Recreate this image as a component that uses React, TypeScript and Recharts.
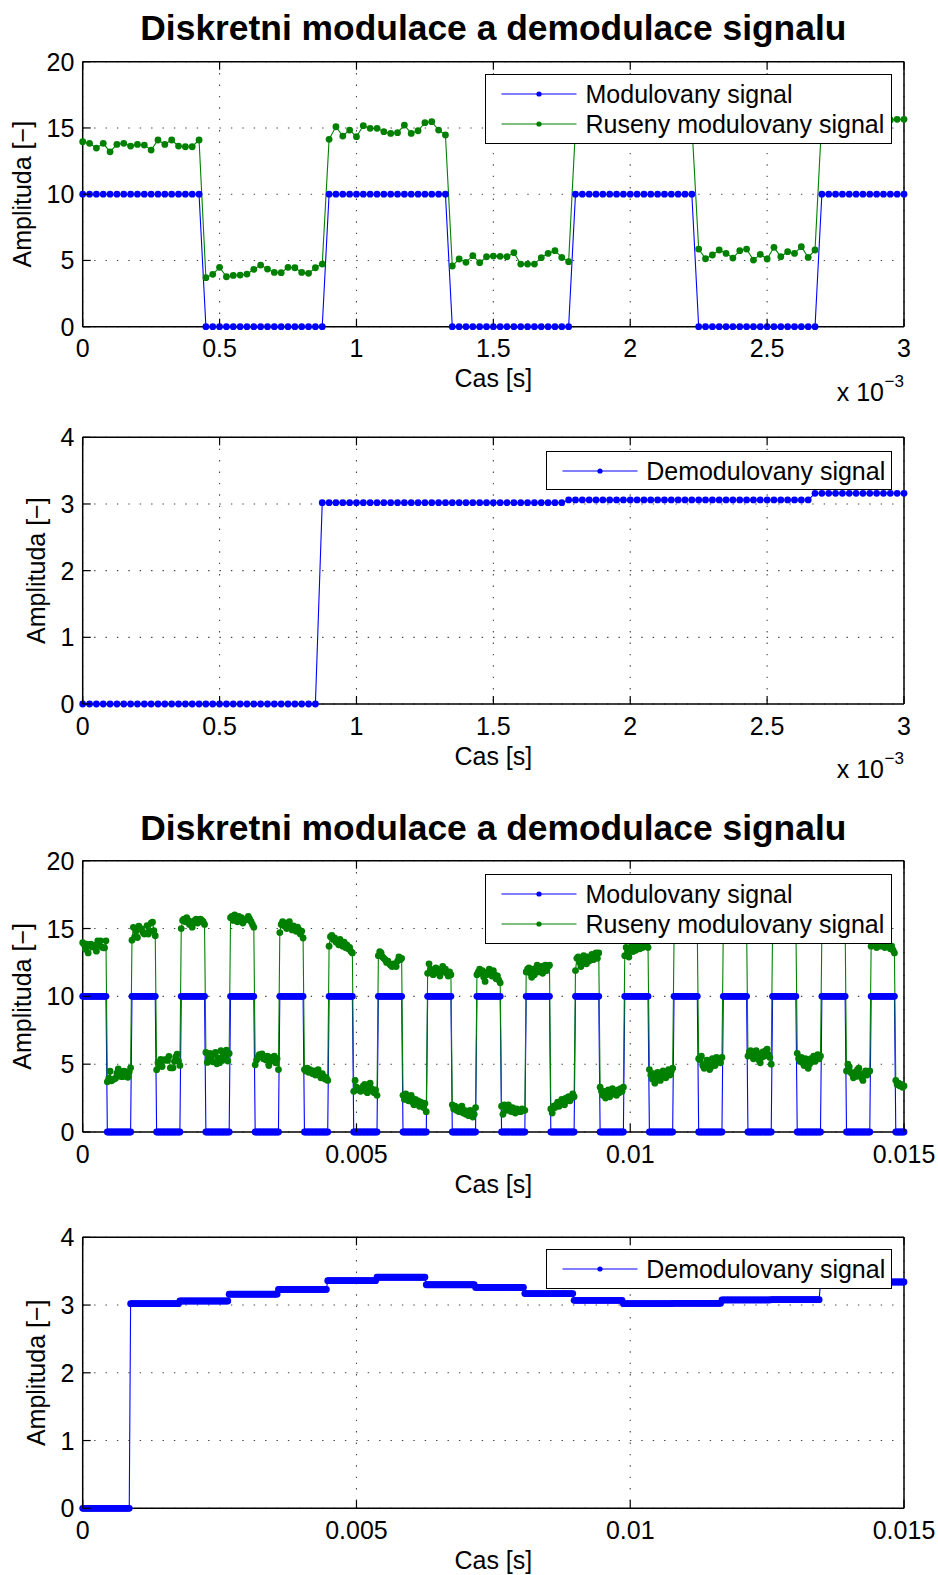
import React from 'react';
import { LineChart, Line, XAxis, YAxis, CartesianGrid, Legend } from 'recharts';

const FONT = '"Liberation Sans", Arial, Helvetica, sans-serif';
const BLUE = '#0000ff';
const GREEN = '#008000';

// 40 kHz sampling, one bit = 18 samples (0.45 ms)
const SAMPLE_US = 25;
const SAMPLES_PER_BIT = 18;

// modulated signal, one level per bit
const modLevels = [
  10, 0, 10, 0, 10, 0, 10, 0, 10, 0, 10, 0, 10, 0, 10, 0, 10,
  0, 10, 0, 10, 0, 10, 0, 10, 0, 10, 0, 10, 0, 10, 0, 10, 0,
];

// noisy modulated signal, samples grouped per bit
const noisyBits: number[][] = [
  [13.96, 13.84, 13.48, 13.84, 13.2, 13.76, 13.84, 13.63, 13.76, 13.71, 13.33, 14.09, 13.76, 14.09, 13.63, 13.58, 13.58, 14.09],
  [3.7, 3.95, 4.48, 3.77, 3.87, 3.9, 3.97, 4.33, 4.65, 4.35, 4.1, 4.08, 4.48, 4.45, 4.1, 4.03, 4.45, 4.73],
  [14.14, 15.09, 14.39, 14.84, 14.34, 15.17, 14.97, 14.97, 14.72, 14.59, 14.64, 15.22, 14.59, 14.79, 15.4, 15.47, 14.84, 14.47],
  [4.58, 5.11, 4.86, 5.36, 4.83, 5.28, 5.33, 5.31, 5.28, 5.58, 4.73, 4.73, 4.73, 5.21, 5.53, 5.74, 5.23, 4.91],
  [15.0, 15.6, 15.7, 15.5, 15.8, 15.6, 15.3, 15.5, 15.1, 15.4, 15.6, 15.7, 15.4, 15.5, 15.7, 15.6, 15.5, 15.3],
  [5.86, 5.13, 5.41, 5.79, 5.53, 5.18, 5.74, 5.86, 5.03, 5.46, 5.11, 5.99, 5.28, 5.66, 5.53, 6.04, 5.23, 5.79],
  [15.8, 15.9, 15.6, 16.0, 15.7, 15.5, 15.9, 15.6, 15.8, 15.4, 15.6, 15.65, 15.65, 15.9, 15.7, 15.5, 15.3, 15.1],
  [4.95, 5.3, 5.5, 5.7, 5.6, 5.75, 5.4, 5.55, 5.3, 5.6, 4.9, 5.2, 5.5, 5.35, 5.6, 5.1, 5.4, 4.6],
  [14.7, 15.3, 15.5, 15.2, 15.4, 15.0, 15.3, 15.5, 15.1, 14.9, 15.2, 15.0, 14.8, 15.1, 14.9, 14.6, 14.8, 14.3],
  [4.6, 4.5, 4.7, 4.4, 4.6, 4.5, 4.3, 4.5, 4.2, 4.4, 4.6, 4.2, 4.0, 4.3, 4.1, 3.9, 4.0, 3.8],
  [13.7, 14.4, 14.5, 14.2, 14.3, 14.0, 14.1, 13.8, 14.2, 13.9, 13.7, 14.0, 13.6, 13.8, 13.5, 13.6, 13.3, 13.2],
  [3.0, 3.8, 3.3, 3.1, 3.2, 3.0, 3.1, 3.4, 3.5, 3.0, 2.9, 3.4, 3.6, 3.2, 3.0, 2.9, 3.1, 2.7],
  [13.0, 13.3, 13.2, 12.9, 12.8, 12.7, 12.5, 12.6, 12.4, 12.3, 12.2, 12.4, 12.3, 12.2, 12.6, 12.9, 12.7, 12.8],
  [2.7, 2.4, 2.8, 2.6, 2.3, 2.5, 2.7, 2.2, 2.0, 2.4, 2.1, 2.3, 1.9, 2.2, 2.0, 1.8, 2.1, 1.5],
  [11.7, 12.4, 12.0, 11.8, 11.6, 11.7, 12.1, 12.0, 11.8, 11.5, 11.9, 12.2, 11.8, 12.0, 11.7, 11.5, 11.8, 11.6],
  [2.0, 1.7, 1.9, 1.6, 1.8, 1.5, 1.7, 1.9, 1.4, 1.6, 1.3, 1.5, 1.2, 1.6, 1.4, 1.1, 1.3, 1.8],
  [11.6, 11.8, 12.0, 11.7, 11.9, 11.4, 11.1, 11.6, 11.8, 12.0, 11.7, 11.5, 11.9, 11.6, 11.3, 11.5, 11.2, 11.0],
  [1.9, 1.3, 2.0, 1.8, 1.6, 2.0, 1.7, 1.5, 1.8, 1.6, 1.4, 1.7, 1.5, 1.6, 1.5, 1.7, 1.6, 1.6],
  [11.8, 12.0, 12.1, 11.7, 11.4, 12.0, 11.6, 11.9, 12.3, 11.8, 12.0, 12.2, 11.7, 12.1, 12.3, 11.9, 12.2, 12.3],
  [1.7, 1.4, 1.9, 1.8, 2.0, 2.2, 1.9, 2.1, 2.4, 2.2, 2.0, 2.5, 2.3, 2.6, 2.3, 2.5, 2.8, 2.6],
  [11.9, 12.8, 12.9, 12.5, 12.2, 12.6, 13.0, 12.7, 12.4, 12.9, 12.6, 12.8, 13.1, 12.7, 12.9, 13.2, 12.8, 13.2],
  [3.3, 3.0, 2.7, 3.0, 2.5, 2.8, 3.1, 2.6, 2.9, 3.2, 2.8, 3.0, 2.7, 3.1, 2.9, 3.2, 3.0, 3.3],
  [13.0, 13.6, 13.3, 12.9, 13.4, 13.7, 13.3, 13.6, 13.4, 13.7, 13.8, 13.5, 13.7, 13.6, 13.9, 13.7, 13.8, 13.6],
  [4.6, 4.2, 3.9, 4.3, 3.6, 4.0, 4.4, 4.1, 3.8, 4.2, 4.5, 4.3, 4.0, 4.4, 4.6, 4.2, 4.5, 4.7],
  [14.3, 14.6, 14.8, 14.5, 14.7, 14.9, 14.6, 14.8, 14.5, 14.7, 15.0, 14.8, 14.6, 14.9, 14.7, 14.8, 15.0, 14.7],
  [5.4, 5.3, 5.6, 4.9, 4.7, 5.0, 5.3, 5.0, 4.6, 4.8, 5.4, 5.0, 4.9, 5.5, 5.2, 5.3, 5.1, 5.5],
  [15.0, 15.2, 15.4, 15.1, 15.3, 15.5, 15.2, 15.4, 15.1, 15.3, 15.6, 15.4, 15.2, 15.5, 15.3, 15.4, 15.6, 15.3],
  [5.6, 5.9, 6.0, 5.6, 5.4, 5.7, 6.0, 5.8, 5.3, 5.1, 5.5, 5.9, 5.6, 6.0, 6.1, 5.7, 5.5, 5.0],
  [15.2, 15.5, 15.6, 15.3, 15.5, 15.7, 15.4, 15.6, 15.3, 15.5, 15.8, 15.6, 15.4, 15.7, 15.5, 15.6, 15.8, 15.5],
  [5.8, 5.4, 5.2, 5.5, 5.1, 4.9, 5.4, 5.2, 4.7, 5.0, 5.4, 5.3, 5.6, 5.2, 5.5, 5.7, 5.4, 5.6],
  [14.8, 15.1, 15.3, 15.0, 15.2, 15.4, 15.1, 15.3, 15.0, 15.2, 15.5, 15.3, 15.1, 15.4, 15.2, 15.3, 15.5, 15.2],
  [4.5, 5.0, 4.8, 4.4, 4.3, 4.0, 4.4, 4.1, 4.6, 4.7, 4.3, 4.0, 3.8, 4.3, 4.5, 4.2, 4.4, 4.5],
  [13.7, 14.0, 13.8, 13.9, 13.6, 13.8, 14.1, 13.7, 13.9, 13.8, 13.6, 14.0, 13.7, 13.8, 13.5, 13.7, 13.4, 13.2],
  [3.8, 3.5, 3.6, 3.4, 3.5, 3.3, 3.4],
];

// demodulated signal: [level, number of samples]
const demodRuns: [number, number][] = [
  [0, 35], [3.02, 36], [3.06, 36], [3.16, 36], [3.23, 36], [3.36, 36], [3.41, 36], [3.3, 36], [3.26, 36],
  [3.17, 36], [3.07, 36], [3.02, 36], [3.025, 36], [3.075, 36], [3.08, 36], [3.33, 36], [3.34, 26],
];

const xTicksShort = [0, 0.0005, 0.001, 0.0015, 0.002, 0.0025, 0.003];
const xLabelsShort = ['0', '0.5', '1', '1.5', '2', '2.5', '3'];
const xTicksLong = [0, 0.005, 0.01, 0.015];
const xLabelsLong = ['0', '0.005', '0.01', '0.015'];
const yTicksSignal = [0, 5, 10, 15, 20];
const yTicksDemod = [0, 1, 2, 3, 4];

const demodSamples = demodRuns.flatMap(([v, n]) => Array(n).fill(v));

const rows = noisyBits.flatMap((bit, k) =>
  bit.map((v, j) => {
    const i = k * SAMPLES_PER_BIT + j;
    return { t: (i * SAMPLE_US) / 1e6, mod: modLevels[k], noisy: v, demod: demodSamples[i] };
  })
);
const rowsShort = rows.filter((r) => r.t <= 0.003);

const PLOT_LEFT = 82.7;
const PLOT_RIGHT = 904;
const TICK_LEN = 8;
const FS = 25;
const DOT_R = 3.4;
// axis sizes (kept small, margins absorb the rest)
const Y_W = 60;
const X_H = 30;
const SIDE = 10;

type Series = { key: string; color: string; name: string };
type Box = { left: number; top: number; width: number; height: number };
type PanelCfg = {
  top: number;
  height: number;
  plotTop: number;
  plotBottom: number;
  data: any[];
  xMax: number;
  xTicks: number[];
  xLabels: string[];
  yMax: number;
  yTicks: number[];
  series: Series[];
  legend: Box;
};

function LegendBox({ items, box }: { items: Series[]; box: Box }) {
  return (
    <div
      style={{
        width: box.width,
        height: box.height,
        boxSizing: 'border-box',
        border: '1.4px solid #000',
        background: '#fff',
        position: 'relative',
        fontFamily: FONT,
        fontSize: FS,
        color: '#000',
      }}
    >
      {items.map((it, idx) => {
        const cy = 19 + idx * 30;
        return (
          <div key={it.key}>
            <svg width={100} height={30} style={{ position: 'absolute', left: 0, top: cy - 15 }}>
              <line x1={15.5} x2={90.5} y1={15} y2={15} stroke={it.color} strokeWidth={1.1} />
              <circle cx={53} cy={15} r={2.6} fill={it.color} />
            </svg>
            <div style={{ position: 'absolute', left: 99.5, top: cy - 15, lineHeight: '30px', whiteSpace: 'nowrap' }}>
              {it.name}
            </div>
          </div>
        );
      })}
    </div>
  );
}

const makeDot = (color: string) => (p: any) => {
  if (p.cx == null || p.cy == null) return <g key={p.index} />;
  return <circle key={p.index} cx={p.cx} cy={p.cy} r={DOT_R} fill={color} />;
};

function Panel({ cfg }: { cfg: PanelCfg }) {
  const plotBottomLocal = cfg.plotBottom - cfg.top;
  const plotTopLocal = cfg.plotTop - cfg.top;
  const axisStyle = { stroke: '#000', strokeWidth: 1.5 };

  const labelFor = (v: number) => {
    let best = 0;
    cfg.xTicks.forEach((t, i) => {
      if (Math.abs(t - v) < Math.abs(cfg.xTicks[best] - v)) best = i;
    });
    return cfg.xLabels[best];
  };

  const bottomTick = (p: any) => (
    <g>
      <line x1={p.x} x2={p.x} y1={plotBottomLocal} y2={plotBottomLocal - TICK_LEN} stroke="#000" strokeWidth={1.2} />
      <text x={p.x} y={plotBottomLocal + 30.5} textAnchor="middle" fontSize={FS} fontFamily={FONT} fill="#000">
        {labelFor(p.payload.value)}
      </text>
    </g>
  );
  const topTick = (p: any) => (
    <line x1={p.x} x2={p.x} y1={plotTopLocal} y2={plotTopLocal + TICK_LEN} stroke="#000" strokeWidth={1.2} />
  );
  const leftTick = (p: any) => (
    <g>
      <line x1={PLOT_LEFT} x2={PLOT_LEFT + TICK_LEN} y1={p.y} y2={p.y} stroke="#000" strokeWidth={1.2} />
      <text x={PLOT_LEFT - 8.4} y={p.y} textAnchor="end" dominantBaseline="central" fontSize={FS} fontFamily={FONT} fill="#000">
        {p.payload.value}
      </text>
    </g>
  );
  const rightTick = (p: any) => (
    <line x1={PLOT_RIGHT} x2={PLOT_RIGHT - TICK_LEN} y1={p.y} y2={p.y} stroke="#000" strokeWidth={1.2} />
  );

  return (
    <div style={{ position: 'absolute', left: 0, top: cfg.top }}>
      <LineChart
        width={938}
        height={cfg.height}
        data={cfg.data}
        margin={{
          top: plotTopLocal - SIDE,
          left: PLOT_LEFT - Y_W,
          right: 938 - PLOT_RIGHT - SIDE,
          bottom: cfg.height - plotBottomLocal - X_H,
        }}
      >
        <CartesianGrid stroke="#444" strokeDasharray="1.4 10" strokeWidth={1.1} />
        <XAxis
          dataKey="t"
          type="number"
          domain={[0, cfg.xMax]}
          ticks={cfg.xTicks}
          interval={0}
          height={X_H}
          tickSize={0}
          tickMargin={0}
          tickLine={false}
          axisLine={axisStyle}
          tick={bottomTick}
        />
        <XAxis
          xAxisId="top"
          orientation="top"
          dataKey="t"
          type="number"
          domain={[0, cfg.xMax]}
          ticks={cfg.xTicks}
          interval={0}
          height={SIDE}
          tickSize={0}
          tickMargin={0}
          tickLine={false}
          axisLine={axisStyle}
          tick={topTick}
        />
        <YAxis
          type="number"
          domain={[0, cfg.yMax]}
          ticks={cfg.yTicks}
          interval={0}
          width={Y_W}
          tickSize={0}
          tickMargin={0}
          tickLine={false}
          axisLine={axisStyle}
          tick={leftTick}
        />
        <YAxis
          yAxisId="right"
          orientation="right"
          type="number"
          domain={[0, cfg.yMax]}
          ticks={cfg.yTicks}
          interval={0}
          width={SIDE}
          tickSize={0}
          tickMargin={0}
          tickLine={false}
          axisLine={axisStyle}
          tick={rightTick}
        />
        {cfg.series.map((s) => (
          <Line
            key={s.key}
            type="linear"
            dataKey={s.key}
            name={s.name}
            stroke={s.color}
            strokeWidth={1.1}
            dot={makeDot(s.color)}
            activeDot={false}
            isAnimationActive={false}
          />
        ))}
        <Legend
          layout="horizontal"
          verticalAlign="middle"
          align="center"
          wrapperStyle={{
            left: cfg.legend.left,
            top: cfg.legend.top - cfg.top,
            width: cfg.legend.width,
            height: cfg.legend.height,
          }}
          content={() => <LegendBox items={cfg.series} box={cfg.legend} />}
        />
      </LineChart>
    </div>
  );
}

const signalSeries: Series[] = [
  { key: 'mod', color: BLUE, name: 'Modulovany signal' },
  { key: 'noisy', color: GREEN, name: 'Ruseny modulovany signal' },
];
const demodSeries: Series[] = [{ key: 'demod', color: BLUE, name: 'Demodulovany signal' }];

const panels: PanelCfg[] = [
  {
    top: 0, height: 410, plotTop: 61.7, plotBottom: 326.7, data: rowsShort,
    xMax: 0.003, xTicks: xTicksShort, xLabels: xLabelsShort, yMax: 20, yTicks: yTicksSignal,
    series: signalSeries, legend: { left: 485, top: 74, width: 407.3, height: 70 },
  },
  {
    top: 410, height: 390, plotTop: 437.3, plotBottom: 704, data: rowsShort,
    xMax: 0.003, xTicks: xTicksShort, xLabels: xLabelsShort, yMax: 4, yTicks: yTicksDemod,
    series: demodSeries, legend: { left: 545.7, top: 450.7, width: 346.6, height: 39.3 },
  },
  {
    top: 800, height: 400, plotTop: 860.7, plotBottom: 1132, data: rows,
    xMax: 0.015, xTicks: xTicksLong, xLabels: xLabelsLong, yMax: 20, yTicks: yTicksSignal,
    series: signalSeries, legend: { left: 485, top: 874, width: 407.3, height: 70 },
  },
  {
    top: 1200, height: 375, plotTop: 1237.3, plotBottom: 1508.3, data: rows,
    xMax: 0.015, xTicks: xTicksLong, xLabels: xLabelsLong, yMax: 4, yTicks: yTicksDemod,
    series: demodSeries, legend: { left: 545.7, top: 1249.3, width: 346.6, height: 39.7 },
  },
];

const TITLE = 'Diskretni modulace a demodulace signalu';
const CX = (PLOT_LEFT + PLOT_RIGHT) / 2;

export default function App() {
  const ylabels = [
    { x: 22, p: panels[0] },
    { x: 36, p: panels[1] },
    { x: 22, p: panels[2] },
    { x: 36, p: panels[3] },
  ];
  return (
    <div style={{ position: 'absolute', left: 0, top: 0, width: 938, height: 1575, background: '#fff', overflow: 'hidden' }}>
      {panels.map((p, i) => (
        <Panel key={i} cfg={p} />
      ))}
      <svg width={938} height={1575} style={{ position: 'absolute', left: 0, top: 0, pointerEvents: 'none' }} fontFamily={FONT}>
        <text x={CX} y={40} textAnchor="middle" fontSize={35.4} fontWeight="bold">{TITLE}</text>
        <text x={CX} y={839.5} textAnchor="middle" fontSize={35.4} fontWeight="bold">{TITLE}</text>
        {panels.map((p, i) => (
          <text key={'xl' + i} x={CX} y={p.plotBottom + 60.5} textAnchor="middle" fontSize={FS}>Cas [s]</text>
        ))}
        {ylabels.map(({ x, p }, i) => {
          const cy = (p.plotTop + p.plotBottom) / 2;
          return (
            <text key={'yl' + i} x={x} y={cy} transform={`rotate(-90 ${x} ${cy})`} textAnchor="middle" dominantBaseline="central" fontSize={FS}>
              Amplituda [−]
            </text>
          );
        })}
        {[panels[0], panels[1]].map((p, i) => (
          <g key={'ex' + i}>
            <text x={884} y={p.plotBottom + 74} textAnchor="end" fontSize={FS}>x 10</text>
            <text x={884.5} y={p.plotBottom + 60} fontSize={17}>−3</text>
          </g>
        ))}
      </svg>
    </div>
  );
}
